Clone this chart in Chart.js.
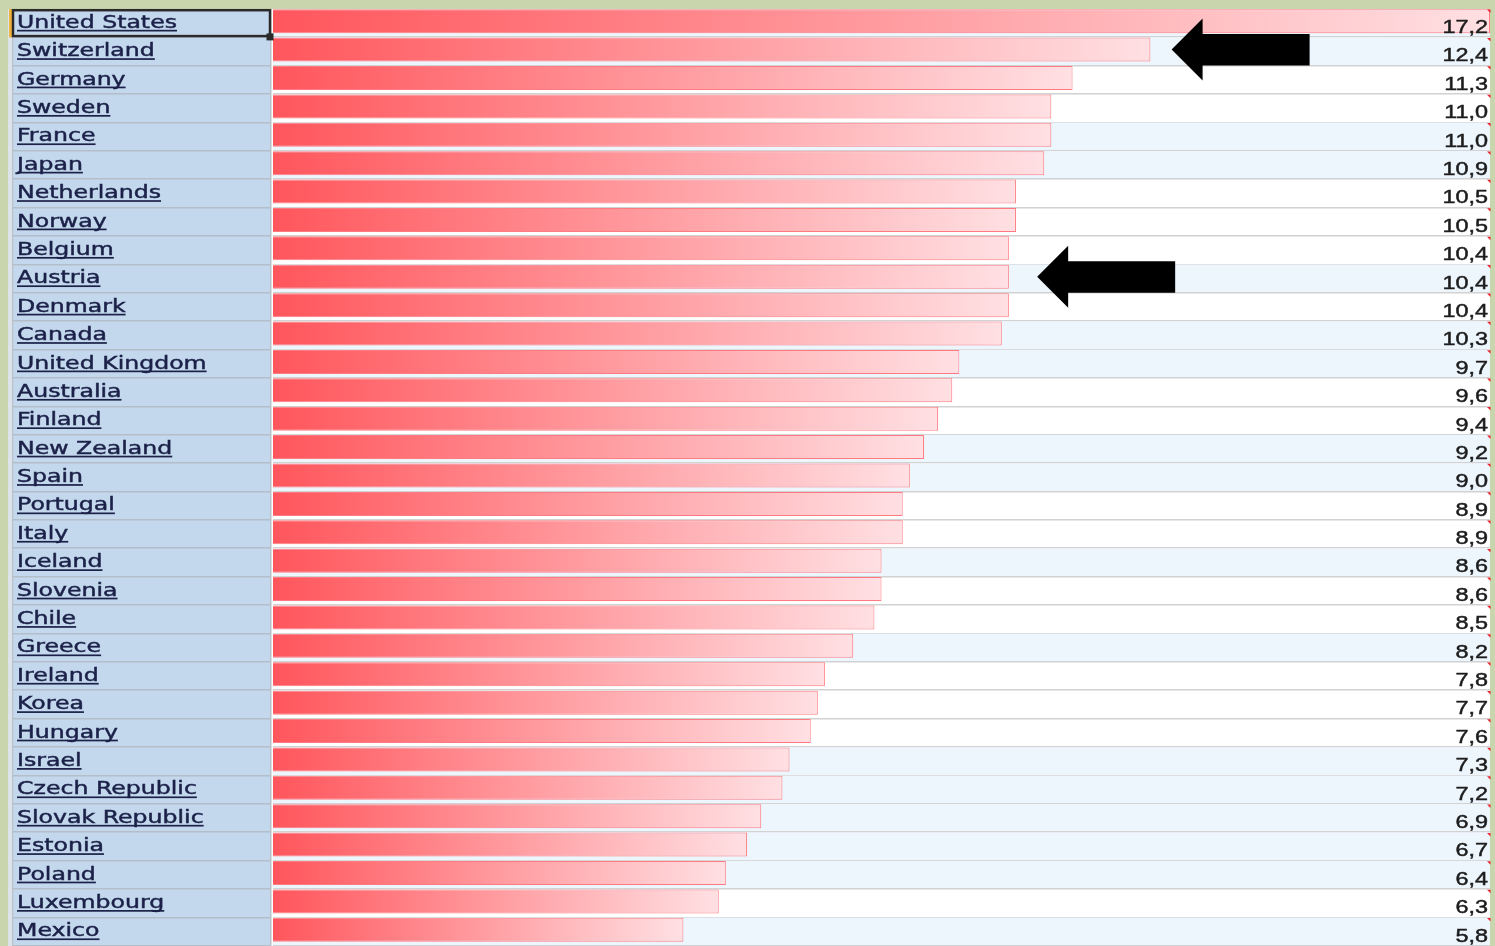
<!DOCTYPE html>
<html>
<head>
<meta charset="utf-8">
<script src="https://cdn.jsdelivr.net/npm/chart.js@4/dist/chart.umd.min.js"></script>
<style>
html, body { margin: 0; padding: 0; background: #c9d6ad; }
#wrap { width: 1495px; height: 946px; }
</style>
</head>
<body>
<div id="wrap"><canvas id="spendChart" width="1495" height="946"></canvas></div>
<script>
// health spending, % of GDP
const countries = [
    'United States', 'Switzerland', 'Germany', 'Sweden', 'France', 'Japan',
    'Netherlands', 'Norway', 'Belgium', 'Austria', 'Denmark', 'Canada',
    'United Kingdom', 'Australia', 'Finland', 'New Zealand', 'Spain', 'Portugal',
    'Italy', 'Iceland', 'Slovenia', 'Chile', 'Greece', 'Ireland', 'Korea',
    'Hungary', 'Israel', 'Czech Republic', 'Slovak Republic', 'Estonia',
    'Poland', 'Luxembourg', 'Mexico'
];
const spending = [
    17.2, 12.4, 11.3, 11.0, 11.0, 10.9, 10.5, 10.5, 10.4, 10.4, 10.4, 10.3,
    9.7, 9.6, 9.4, 9.2, 9.0, 8.9, 8.9, 8.6, 8.6, 8.5, 8.2, 7.8, 7.7,
    7.6, 7.3, 7.2, 6.9, 6.7, 6.4, 6.3, 5.8
];
const valueLabels = spending.map(v => v.toFixed(1).replace('.', ','));
// rows pointed at by the black arrows
const arrowRows = ['Switzerland', 'Austria'];
const arrowTips = [12.7, 10.8];

// look of the spreadsheet
const shadedRows = [1,1,0,0,1,1,0,0,0,1,0,1,1,0,0,1,1,0,0,1,0,0,1,0,0,0,1,1,1,1,1,0,1];
const ROW_SHIFT = 2;      // cells sit a little lower than the bar centres
const LABEL_SX = 1.35;    // the screenshot is stretched sideways
const VALUE_SX = 1.28;

function barFill(c) {
    const chart = c.chart;
    if (!chart.chartArea || c.type !== 'data') return '#ff6a70';
    const xs = chart.scales.x;
    const x0 = xs.getPixelForValue(0);
    const x1 = xs.getPixelForValue(spending[c.dataIndex]);
    const g = chart.ctx.createLinearGradient(x0, 0, x1, 0);
    g.addColorStop(0, '#ff565c');
    g.addColorStop(1, '#ffe0e3');
    return g;
}

function stretchText(ctx, text, x, y, align, sx, underline) {
    ctx.save();
    ctx.translate(x, y);
    ctx.scale(sx, 1);
    ctx.textAlign = align;
    ctx.fillText(text, 0, 0);
    ctx.lineWidth = 0.45;
    ctx.strokeText(text, 0, 0);
    if (underline) {
        const w = ctx.measureText(text).width;
        ctx.fillRect(0, 2, w, 1.7);
    }
    ctx.restore();
}

function rowBox(chart, i) {
    const ys = chart.scales.y;
    const h = (ys.bottom - ys.top) / countries.length;
    const top = ys.getPixelForValue(i) - h / 2 + ROW_SHIFT;
    return { top: top, bottom: top + h, h: h };
}

const sheetPlugin = {
    id: 'sheet',
    beforeDatasetsDraw(chart) {
        const ctx = chart.ctx;
        const area = chart.chartArea;
        ctx.save();
        ctx.fillStyle = '#c9d6ad';
        ctx.fillRect(0, 0, chart.width, chart.height);
        ctx.fillStyle = '#ffffff';
        ctx.fillRect(8, 9, area.right - 8, chart.height - 9);
        ctx.fillStyle = '#dde3ea';
        ctx.fillRect(8, 9, 4, chart.height - 9);
        ctx.fillStyle = '#c4d8ed';
        ctx.fillRect(12, 9, 258, chart.height - 9);

        countries.forEach((name, i) => {
            const r = rowBox(chart, i);
            if (shadedRows[i]) {
                ctx.fillStyle = '#edf5fd';
                ctx.fillRect(area.left, r.top, area.right - area.left, r.h);
            }
            ctx.fillStyle = '#b4bec9';
            ctx.fillRect(12, Math.round(r.bottom) - 1, 258, 1.5);
            ctx.fillStyle = '#d2d2d2';
            ctx.fillRect(area.left, Math.round(r.bottom) - 1, area.right - area.left, 1.5);
        });
        ctx.fillStyle = '#b8c0c8';
        ctx.fillRect(12, 9, 1.2, chart.height - 9);
        ctx.fillRect(270, 9, 1.5, chart.height - 9);
        ctx.restore();
    },
    afterDatasetsDraw(chart) {
        const ctx = chart.ctx;
        const area = chart.chartArea;
        const xs = chart.scales.x;
        ctx.save();
        countries.forEach((name, i) => {
            const r = rowBox(chart, i);
            ctx.fillStyle = '#1b2148';
            ctx.strokeStyle = '#1b2148';
            ctx.font = '17.5px "DejaVu Sans", Verdana, sans-serif';
            stretchText(ctx, name, 17, r.top + 18.8, 'left', LABEL_SX, true);
            ctx.fillStyle = '#1c1c1c';
            ctx.strokeStyle = '#1c1c1c';
            ctx.font = '18.3px "Liberation Sans", Arial, sans-serif';
            stretchText(ctx, valueLabels[i], area.right - 2, r.top + 24, 'right', VALUE_SX, false);
            // comment marker
            ctx.fillStyle = '#e8242a';
            ctx.beginPath();
            ctx.moveTo(area.right - 3, r.top + 0.5);
            ctx.lineTo(area.right + 0.5, r.top + 0.5);
            ctx.lineTo(area.right + 0.5, r.top + 4);
            ctx.closePath();
            ctx.fill();
        });

        // arrows
        ctx.fillStyle = '#000000';
        arrowRows.forEach((name, k) => {
            const r = rowBox(chart, countries.indexOf(name));
            const cy = (r.top + r.bottom) / 2 - 2;
            const tip = xs.getPixelForValue(arrowTips[k]);
            ctx.beginPath();
            ctx.moveTo(tip, cy);
            ctx.lineTo(tip + 31, cy - 31);
            ctx.lineTo(tip + 31, cy - 15.5);
            ctx.lineTo(tip + 138, cy - 15.5);
            ctx.lineTo(tip + 138, cy + 16);
            ctx.lineTo(tip + 31, cy + 16);
            ctx.lineTo(tip + 31, cy + 31);
            ctx.closePath();
            ctx.fill();
        });

        // selected cell
        const r0 = rowBox(chart, 0);
        ctx.fillStyle = '#f0b43c';
        ctx.fillRect(9, 9, 3, r0.bottom - 9);
        ctx.strokeStyle = '#2a2a2a';
        ctx.lineWidth = 2.5;
        ctx.strokeRect(13, 10.2, 257, r0.bottom - 11.5);
        ctx.fillStyle = '#2a2a2a';
        ctx.fillRect(266.5, r0.bottom - 4, 7, 7);
        ctx.restore();
    }
};

new Chart(document.getElementById('spendChart'), {
    type: 'bar',
    data: {
        labels: countries,
        datasets: [{
            data: spending,
            backgroundColor: barFill,
            borderColor: '#ff7b81',
            borderWidth: 1,
            borderSkipped: 'start',
            barPercentage: 0.845,
            categoryPercentage: 1
        }]
    },
    options: {
        indexAxis: 'y',
        responsive: false,
        animation: false,
        layout: { padding: { left: 273, right: 5, top: 7, bottom: 2 } },
        scales: {
            x: { display: false, min: 0, max: 17.2 },
            y: { display: false, offset: true }
        },
        plugins: {
            legend: { display: false },
            tooltip: { enabled: false }
        }
    },
    plugins: [sheetPlugin]
});
</script>
</body>
</html>
